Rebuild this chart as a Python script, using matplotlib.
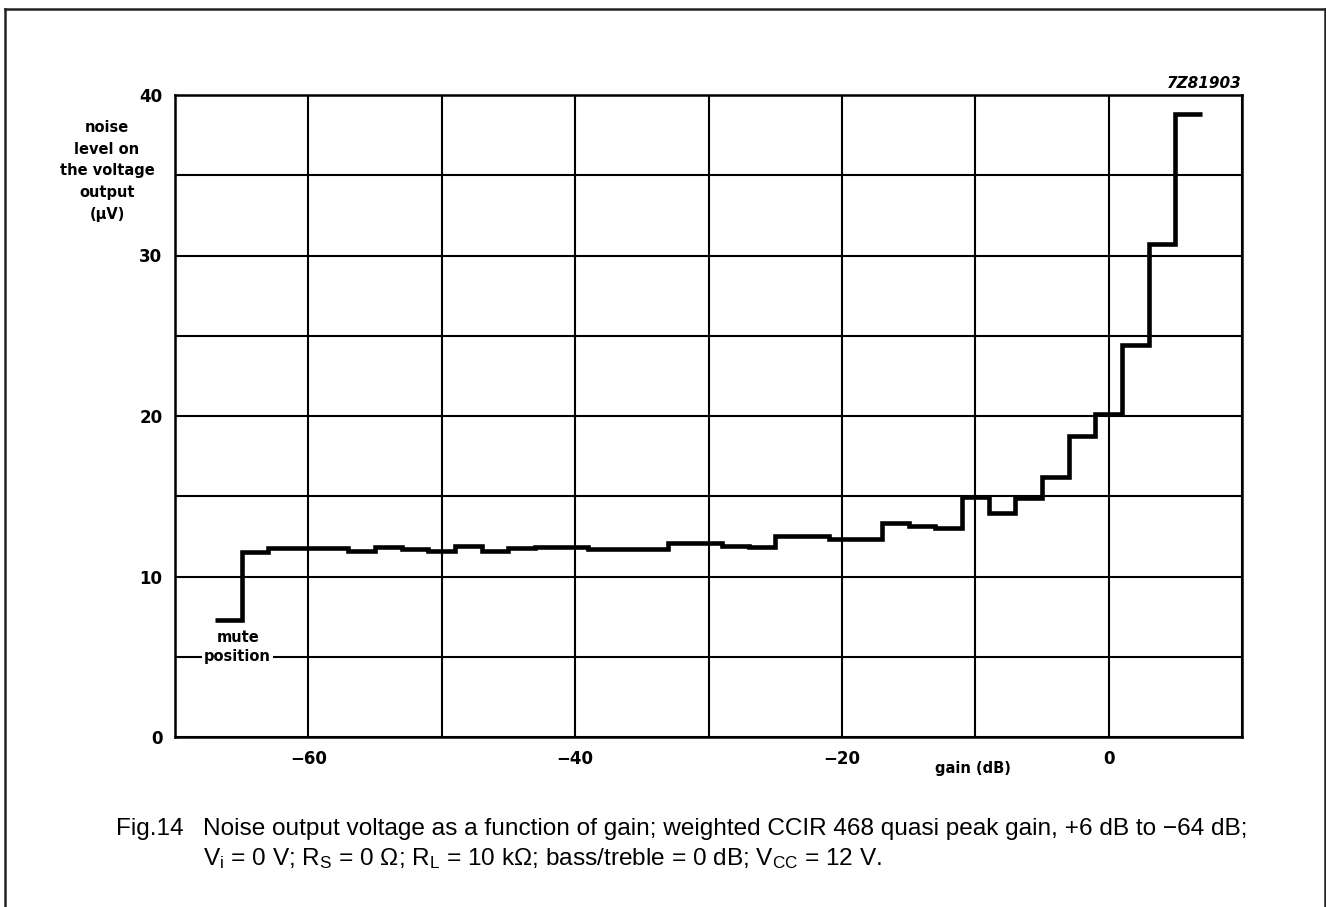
import numpy as np
import matplotlib
matplotlib.use("Agg")
import matplotlib.pyplot as plt
from matplotlib.lines import Line2D

# ---- data ----
gain_db = np.array([-66, -64, -62, -60, -58, -56, -54, -52, -50, -48, -46, -44,
                    -42, -40, -38, -36, -34, -32, -30, -28, -26, -24, -22, -20,
                    -18, -16, -14, -12, -10, -8, -6, -4, -2, 0, 2, 4, 6])
noise_uv = np.array([7.3, 11.5, 11.78, 11.78, 11.78, 11.61, 11.86, 11.72, 11.57,
                     11.93, 11.61, 11.8, 11.82, 11.82, 11.72, 11.72, 11.72, 12.07,
                     12.07, 11.93, 11.82, 12.55, 12.55, 12.34, 12.34, 13.31, 13.17,
                     13.02, 14.93, 13.95, 14.89, 16.17, 18.76, 20.1, 24.45, 30.73, 38.8])
x_ticks = [-70, -60, -50, -40, -30, -20, -10, 0, 10]
x_labels = ["", "\u221260", "", "\u221240", "", "\u221220", "", "0", ""]
y_ticks = [0, 5, 10, 15, 20, 25, 30, 35, 40]
y_labels = ["0", "", "10", "", "20", "", "30", "", "40"]
step_width = 2

plt.rcParams["mathtext.default"] = "regular"

W, H = 1326, 907
fig = plt.figure(figsize=(W / 100, H / 100), dpi=100)
ax = fig.add_axes([175 / W, 1 - 737 / H, (1242 - 175) / W, (737 - 95) / H])

edges = np.append(gain_db - step_width / 2, gain_db[-1] + step_width / 2)
ax.stairs(noise_uv, edges, baseline=None, color="black", linewidth=3.3, zorder=3)

ax.set_xlim(-70, 10)
ax.set_ylim(0, 40)
ax.set_xticks(x_ticks)
ax.set_xticklabels(x_labels)
ax.set_yticks(y_ticks)
ax.set_yticklabels(y_labels)
ax.tick_params(length=0, labelsize=12, pad=9)
for lab in ax.get_xticklabels() + ax.get_yticklabels():
    lab.set_fontweight("bold")
    lab.set_family("DejaVu Sans")
ax.grid(True, color="black", linewidth=1.5)
for s in ax.spines.values():
    s.set_linewidth(1.8)
    s.set_color("black")

# labels
fig.text(973 / W, 1 - 769 / H, "gain (dB)", ha="center", va="center",
         fontsize=10.5, fontweight="bold")
fig.text(107 / W, 1 - 171 / H, "noise\nlevel on\nthe voltage\noutput\n(\u03bcV)",
         ha="center", va="center", fontsize=10.5, fontweight="bold", linespacing=1.55)
fig.text(1242 / W, 1 - 84 / H, "7Z81903", ha="right", va="center",
         fontsize=11, fontweight="bold", style="italic")
ax.text(-65.3, 6.2, "mute", ha="center", va="center", fontsize=10.5, fontweight="bold")
ax.text(-65.3, 5.0, "position", ha="center", va="center", fontsize=10.5,
        fontweight="bold", bbox=dict(facecolor="white", edgecolor="none", pad=1.5),
        zorder=4)

# caption
cap_font = "Liberation Sans"
cap_size = 17.6
fig.text(116 / W, 1 - 829 / H, "Fig.14", ha="left", va="center",
         fontsize=cap_size, family=cap_font)
fig.text(203 / W, 1 - 829 / H,
         "Noise output voltage as a function of gain; weighted CCIR 468 quasi peak gain, +6 dB to \u221264 dB;",
         ha="left", va="center", fontsize=cap_size, family=cap_font)
fig.text(203 / W, 1 - 859 / H,
         "V$_{i}$ = 0 V; R$_{S}$ = 0 \u03a9; R$_{L}$ = 10 k\u03a9; bass/treble = 0 dB; V$_{CC}$ = 12 V.",
         ha="left", va="center", fontsize=cap_size, family=cap_font)

# outer frame
for xs, ys in [([5 / W, 5 / W], [0, 1 - 9 / H]),
               ([5 / W, 1325 / W], [1 - 9 / H, 1 - 9 / H]),
               ([1325 / W, 1325 / W], [1 - 9 / H, 0])]:
    fig.add_artist(Line2D(xs, ys, transform=fig.transFigure, color="#222222", linewidth=1.8))

fig.savefig("out.png", dpi=100)
